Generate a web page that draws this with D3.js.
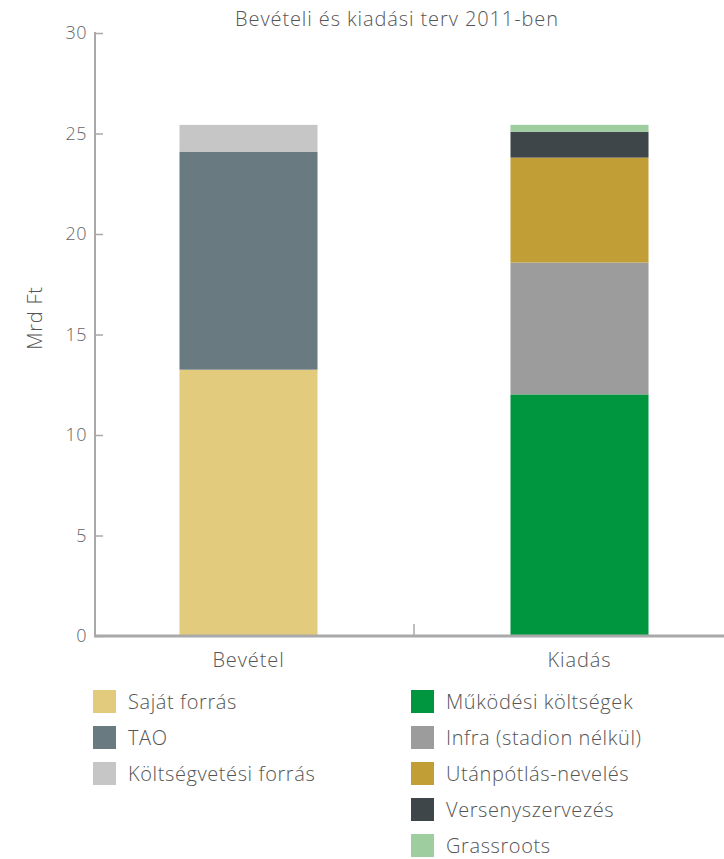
<!DOCTYPE html>
<html>
<head>
<meta charset="utf-8">
<script src="https://cdn.jsdelivr.net/npm/d3@7"></script>
<style>
  body { margin: 0; background: #fff; }
  svg text { font-family: "Open Sans", Lato, sans-serif; font-weight: 300; fill: #555; }
</style>
</head>
<body>
<svg id="chart" width="724" height="859"></svg>
<script>
// Budget plan 2011: income vs. spending, billion HUF
const categories = ["Bevétel", "Kiadás"];

const incomeSeries = ["Saját forrás", "TAO", "Költségvetési forrás"];
const incomeValues = [13.25, 10.85, 1.33];
const incomeColors = ["#e2cb7c", "#697a80", "#c5c6c5"];

const spendSeries = ["Működési költségek", "Infra (stadion nélkül)", "Utánpótlás-nevelés", "Versenyszervezés", "Grassroots"];
const spendValues = [12.02, 6.56, 5.22, 1.29, 0.34];
const spendColors = ["#00963f", "#9c9c9c", "#c29e37", "#3e4649", "#9ecd9f"];

const yTicks = [0, 5, 10, 15, 20, 25, 30];

const svg = d3.select("#chart");
const axisColor = "#a9a9a9";
const plotLeft = 95, plotRight = 724, plotTop = 33, plotBottom = 636;

const y = d3.scaleLinear().domain([0, 30]).range([plotBottom, plotTop]);
const x = d3.scaleBand().domain(categories).range([83, 745])
  .paddingInner(0.583).paddingOuter(0.2915);

// Stacked segments for each bar
function stackRows(names, values, colors) {
  let acc = 0;
  return names.map((n, i) => {
    const row = { name: n, y0: acc, y1: acc + values[i], color: colors[i] };
    acc += values[i];
    return row;
  });
}
const bars = [
  { cat: "Bevétel", rows: stackRows(incomeSeries, incomeValues, incomeColors) },
  { cat: "Kiadás", rows: stackRows(spendSeries, spendValues, spendColors) }
];

bars.forEach(b => {
  svg.append("g").selectAll("rect").data(b.rows).join("rect")
    .attr("x", x(b.cat))
    .attr("width", x.bandwidth())
    .attr("y", d => y(d.y1))
    .attr("height", d => y(d.y0) - y(d.y1))
    .attr("fill", d => d.color);
});

// Y axis: ticks point into the plot
const yAxis = svg.append("g").attr("transform", `translate(${plotLeft},0)`)
  .call(d3.axisRight(y).tickValues(yTicks).tickSize(8).tickFormat(""));
yAxis.select(".domain").remove();
yAxis.selectAll(".tick line").attr("stroke", axisColor).attr("stroke-width", 1.5);
svg.append("line").attr("x1", plotLeft).attr("x2", plotLeft)
  .attr("y1", plotTop - 1).attr("y2", plotBottom)
  .attr("stroke", axisColor).attr("stroke-width", 2);
svg.append("g").selectAll("text").data(yTicks).join("text")
  .attr("x", 87).attr("y", d => y(d))
  .attr("dy", "0.35em").attr("text-anchor", "end")
  .style("font-size", "18px").style("fill", "#666").style("letter-spacing", "0.5px")
  .text(d => d);

// X axis baseline and the divider tick between the bars
svg.append("line").attr("x1", plotLeft - 1).attr("x2", plotRight)
  .attr("y1", plotBottom).attr("y2", plotBottom)
  .attr("stroke", axisColor).attr("stroke-width", 3);
const divX = (x("Bevétel") + x("Kiadás") + x.bandwidth()) / 2;
svg.append("line").attr("x1", divX).attr("x2", divX)
  .attr("y1", plotBottom - 12).attr("y2", plotBottom)
  .attr("stroke", axisColor).attr("stroke-width", 1.5);
svg.append("g").selectAll("text").data(categories).join("text")
  .attr("x", d => x(d) + x.bandwidth() / 2).attr("y", 667)
  .attr("text-anchor", "middle")
  .style("font-size", "20px").style("letter-spacing", "0.9px")
  .text(d => d);

// Title and axis label
svg.append("text").attr("x", 397).attr("y", 26).attr("text-anchor", "middle")
  .style("font-size", "20px").style("letter-spacing", "0.9px")
  .text("Bevételi és kiadási terv 2011-ben");
svg.append("text").attr("transform", "translate(42,318) rotate(-90)")
  .attr("text-anchor", "middle").style("font-size", "20px").style("letter-spacing", "0.8px")
  .text("Mrd Ft");

// Legend: income on the left, spending on the right
function legend(names, colors, x0, y0) {
  const g = svg.append("g").attr("transform", `translate(${x0},${y0})`);
  const items = g.selectAll("g").data(names).join("g")
    .attr("transform", (d, i) => `translate(0,${i * 36})`);
  items.append("rect").attr("width", 23).attr("height", 23)
    .attr("fill", (d, i) => colors[i]);
  items.append("text").attr("x", 35).attr("y", 12).attr("dy", "0.35em")
    .style("font-size", "20px").style("letter-spacing", "0.6px").text(d => d);
}
legend(incomeSeries, incomeColors, 93, 690);
legend(spendSeries, spendColors, 411, 690);
</script>
</body>
</html>
